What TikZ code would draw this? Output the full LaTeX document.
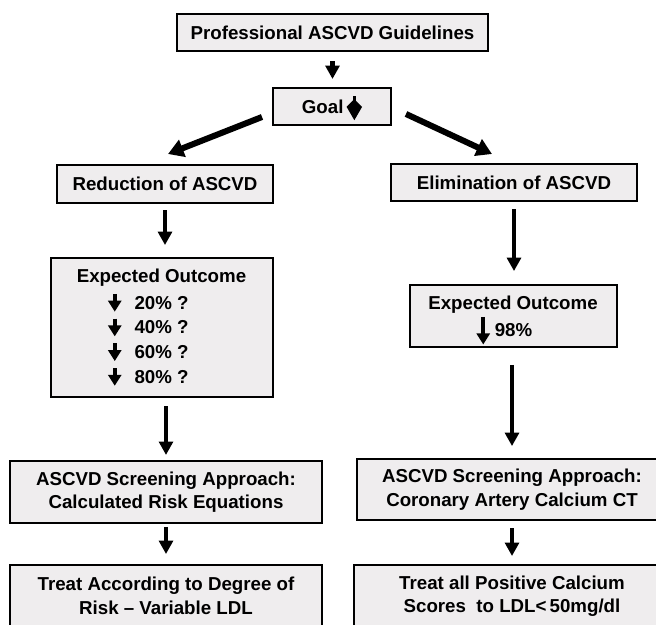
\documentclass[tikz,border=0pt]{standalone}
\usepackage{fontspec}
\setmainfont{Liberation Sans}
\usetikzlibrary{arrows.meta, calc}
\definecolor{boxgray}{HTML}{EFEDEE}
\newcommand{\dnarrow}[2]{\tikz[baseline=0pt]{\useasboundingbox (-4.6pt,0pt) rectangle (4.6pt,9pt);
  \draw[line width=2.8pt, -{Triangle[width=9.2pt,length=7.8pt]}] (0,#1) -- (0,#2);}}
\newcommand{\kitearrow}{\tikz[baseline=0pt]{\useasboundingbox (-5.5pt,0pt) rectangle (5.5pt,9pt);
  \draw[line width=2.2pt, -{Kite[width=11pt,length=15pt,inset=5.5pt]}] (0,12pt) -- (0,-5pt);}}
\tikzset{
	boxnode/.style={
			draw=black,
			line width=1.4pt,
			fill=boxgray,
			inner sep=2pt,
			align=center,
			font=\bfseries\fontsize{13.3}{16.7}\selectfont
		},
	textnode/.style={
			inner sep=0pt,
			font=\bfseries\fontsize{13.3}{16.7}\selectfont
		},
	flowarrow/.style={
			line width=3.3pt,
			-{Triangle[width=9.8pt,length=9.5pt]}
		},
	diagarrow/.style={
			line width=4.3pt,
			-{Triangle[width=12.5pt,length=11pt]}
		}
}
\begin{document}
\begin{tikzpicture}[x=0.025cm, y=-0.025cm]
    \useasboundingbox (0,0) rectangle (656,624);
    \clip (0,0) rectangle (656,624);

    \node[boxnode, minimum width=7.775cm, minimum height=0.925cm] (guide) at (332.5,32.5) {Professional ASCVD Guidelines};
    \node[boxnode, minimum width=2.95cm, minimum height=0.925cm] (goal) at (332,106.5) {Goal\,\kitearrow};
    \node[boxnode, minimum width=5.4cm, minimum height=0.95cm] (reduce) at (165,184) {Reduction of ASCVD};
    \node[boxnode, minimum width=6.15cm, minimum height=0.925cm] (elim) at (514,182.5) {Elimination of ASCVD};

    \node[boxnode, minimum width=5.55cm, minimum height=3.475cm] (outL) at (162,327.5) {};
    \node[textnode] (outLhead) at (161.5,278) {Expected Outcome};
    \foreach \pct [count=\i] in {20,40,60,80}
        \node[textnode, anchor=west] (pct\pct) at (108,278+24.7*\i) {\dnarrow{10.8pt}{-1.8pt}\hspace{9.5pt}\pct\% ?};

    \node[boxnode, minimum width=5.175cm, minimum height=1.55cm] (outR) at (513.5,316) {};
    \node[textnode] (outRhead) at (513,305) {Expected Outcome};
    \node[textnode, anchor=west] (outRval) at (476.5,330) {\dnarrow{14pt}{-5.7pt}\hspace{3.6pt}98\%};

    \node[boxnode, minimum width=7.8cm, minimum height=1.55cm] (screenL) at (166,492) {ASCVD Screening Approach:\\Calculated Risk Equations};
    \node[boxnode, minimum width=7.75cm, minimum height=1.525cm] (screenR) at (512,489.5) {ASCVD Screening Approach:\\Coronary Artery Calcium CT};
    \node[boxnode, minimum width=7.8cm, minimum height=1.55cm] (treatL) at (166,596) {Treat According to Degree of\\Risk -- Variable LDL};
    \node[boxnode, minimum width=7.9cm, minimum height=1.55cm] (treatR) at (512,596) {Treat all Positive Calcium\\Scores\ \ to LDL{<}\,50mg/dl};

    \draw[flowarrow, shorten <=6.5pt, shorten >=5.7pt] (guide.south) -- (guide.south |- goal.north);
    \draw[diagarrow] ($(goal.south west)+(-10,-9)$) -- ($(reduce.north)+(3,-10)$);
    \draw[diagarrow] ($(goal.south east)+(14,-12)$) -- ($(elim.north)+(-22,-9)$);

    \draw[flowarrow, shorten <=4.3pt, shorten >=8.5pt] (reduce.south) -- (reduce.south |- outL.north);
    \draw[flowarrow, shorten <=5.7pt, shorten >=3.6pt] (screenL.north |- outL.south) -- (screenL.north);
    \draw[flowarrow, shorten <=2.1pt, shorten >=7.1pt] (screenL.south) -- (treatL.north);

    \draw[flowarrow, shorten <=5pt, shorten >=9.2pt] (elim.south) -- (elim.south |- outR.north);
    \draw[flowarrow, shorten <=12pt, shorten >=8.5pt] (screenR.north |- outR.south) -- (screenR.north);
    \draw[flowarrow, shorten <=5pt, shorten >=5.7pt] (screenR.south) -- (treatR.north);
\end{tikzpicture}
\end{document}
